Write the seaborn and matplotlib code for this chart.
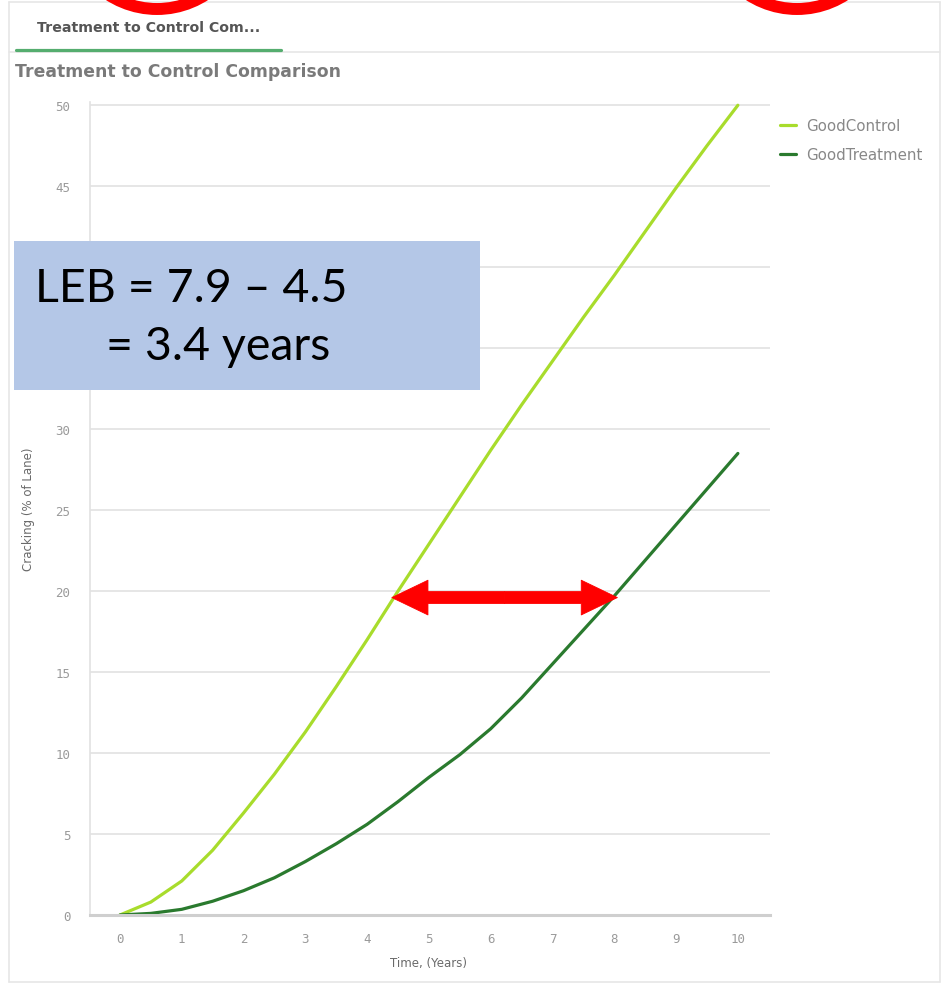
import numpy as np
import pandas as pd
import matplotlib
matplotlib.use("Agg")
import matplotlib.pyplot as plt
from matplotlib.patches import Rectangle, Circle, FancyArrowPatch
from matplotlib.lines import Line2D
import seaborn as sns

# ---------------- data ----------------
years = [0, 0.5, 1, 1.5, 2, 2.5, 3, 3.5, 4, 4.5, 5, 5.5, 6, 6.5, 7, 7.5, 8, 8.5, 9, 9.5, 10]
good_control = [0, 0.8, 2.1, 4.0, 6.3, 8.7, 11.3, 14.1, 17.0, 20.0, 22.9, 25.8, 28.7,
                31.5, 34.2, 36.9, 39.5, 42.2, 44.9, 47.5, 50.0]
good_treatment = [0, 0.1, 0.35, 0.85, 1.5, 2.3, 3.3, 4.4, 5.6, 7.0, 8.5, 9.9, 11.5,
                  13.4, 15.5, 17.6, 19.7, 21.9, 24.1, 26.3, 28.5]
series_names = ["GoodControl", "GoodTreatment"]
series_colors = ["#a8dc2c", "#2a7a2e"]
x_ticks = [0, 1, 2, 3, 4, 5, 6, 7, 8, 9, 10]
y_ticks = [0, 5, 10, 15, 20, 25, 30, 35, 40, 45, 50]
hidden_y_ticks = [35, 40]   # covered by the blue note box in the original
leb_control_year = 4.4
leb_treatment_year = 8.05
leb_level = 19.6
tab_label = "Treatment to Control Com..."
chart_title = "Treatment to Control Comparison"
x_label = "Time, (Years)"
y_label = "Cracking (% of Lane)"
box_line1 = "LEB = 7.9 \u2013 4.5"
box_line2 = "= 3.4 years"

df = pd.DataFrame({
    "Year": years * 2,
    "Cracking": good_control + good_treatment,
    "Series": [series_names[0]] * len(years) + [series_names[1]] * len(years),
})

# ---------------- figure ----------------
W, H = 948, 987
sns.set_style("white")
plt.rcParams["font.family"] = ["DejaVu Sans"]
fig = plt.figure(figsize=(W / 100, H / 100), dpi=100)
fig.patch.set_facecolor("white")

def fx(px):
    return px / W

def fy(py):
    return 1 - py / H

ax_left, ax_right, ax_top, ax_bottom = 90, 770, 103, 916
ax = fig.add_axes([fx(ax_left), fy(ax_bottom), fx(ax_right - ax_left), (ax_bottom - ax_top) / H])

sns.lineplot(data=df, x="Year", y="Cracking", hue="Series",
             palette=dict(zip(series_names, series_colors)),
             linewidth=2.3, ax=ax, legend=True)

ax.set_xlim(-0.485, 10.52)
ax.set_ylim(0, 50.2)
ax.set_xticks(x_ticks)
ax.set_yticks(y_ticks)
ax.set_xticklabels([str(v) for v in x_ticks])
ax.set_yticklabels(["" if v in hidden_y_ticks else str(v) for v in y_ticks])

grid_col = "#e2e2e2"
ax.yaxis.grid(True, color=grid_col, linewidth=1.2)
ax.xaxis.grid(False)
ax.set_axisbelow(True)
for s in ["top", "right"]:
    ax.spines[s].set_visible(False)
ax.spines["left"].set_color(grid_col)
ax.spines["left"].set_linewidth(1.2)
ax.spines["bottom"].set_color("#cfcfcf")
ax.spines["bottom"].set_linewidth(2.2)

ax.tick_params(axis="y", length=7, width=1.2, color=grid_col, pad=7,
               labelcolor="#9a9a9a", labelsize=9)
ax.tick_params(axis="x", length=0, pad=12, labelcolor="#9a9a9a", labelsize=9)
for lab in ax.get_xticklabels() + ax.get_yticklabels():
    lab.set_fontfamily("DejaVu Sans Mono")

ax.set_xlabel(x_label, fontsize=8.5, color="#6a6a6a")
ax.set_ylabel(y_label, fontsize=8.5, color="#6a6a6a")
ax.xaxis.set_label_coords((428 - ax_left) / (ax_right - ax_left), -(957 - ax_bottom) / (ax_bottom - ax_top))
ax.yaxis.set_label_coords(-(ax_left - 35) / (ax_right - ax_left), 0.5)

# legend
handles, labels = ax.get_legend_handles_labels()
ax.legend(handles, labels, loc="upper left",
          bbox_to_anchor=(fx(780), fy(119)), bbox_transform=fig.transFigure,
          frameon=False, fontsize=10.8, labelcolor="#888888",
          handlelength=1.05, handletextpad=0.7, labelspacing=0.95,
          borderpad=0, borderaxespad=0)

# red double arrow (two single-headed halves meeting in the middle)
mid = (leb_control_year + leb_treatment_year) / 2
for end in (leb_control_year, leb_treatment_year):
    arr = FancyArrowPatch((mid, leb_level), (end, leb_level),
                          arrowstyle="simple,head_length=26,head_width=25,tail_width=8.6",
                          mutation_scale=1, color="#ff0000", lw=0.6,
                          shrinkA=0, shrinkB=0, zorder=5)
    ax.add_patch(arr)

# ---------------- panel decoration ----------------
border_col = "#e6e6e6"
fig.add_artist(Line2D([fx(9), fx(9)], [fy(3), fy(983)], color=border_col, lw=1.2))
fig.add_artist(Line2D([fx(940), fx(940)], [fy(3), fy(983)], color=border_col, lw=1.2))
fig.add_artist(Line2D([fx(9), fx(940)], [fy(3), fy(3)], color=border_col, lw=1.2))
fig.add_artist(Line2D([fx(9), fx(940)], [fy(983), fy(983)], color=border_col, lw=1.2))
fig.add_artist(Line2D([fx(9), fx(940)], [fy(53), fy(53)], color=border_col, lw=1.2))
fig.add_artist(Line2D([fx(16), fx(281)], [fy(51), fy(51)], color="#55ad6f", lw=2.3))

fig.text(fx(37), fy(28), tab_label, fontsize=10.2, fontweight="bold", color="#555555",
         ha="left", va="center")
fig.text(fx(15), fy(72), chart_title, fontsize=12.4, fontweight="bold", color="#7a7a7a",
         ha="left", va="center")

# red circle fragments at the top
for cx in (157, 797):
    fig.add_artist(Circle((cx / 100, (H + 79) / 100), 0.89, transform=fig.dpi_scale_trans,
                          fill=False, edgecolor="#ff0000", lw=8.6, zorder=10))

# blue annotation box
fig.add_artist(Rectangle((fx(14), fy(391)), fx(466), 149 / H, transform=fig.transFigure,
                         facecolor="#b4c7e7", edgecolor="none", zorder=10))
fig.text(fx(35), fy(302), box_line1, fontsize=33.5, family=["Lato", "DejaVu Sans"],
         color="black", ha="left", va="baseline", zorder=11)
fig.text(fx(106), fy(360), box_line2, fontsize=33.5, family=["Lato", "DejaVu Sans"],
         color="black", ha="left", va="baseline", zorder=11)

fig.savefig("out.png", dpi=100, facecolor="white")
